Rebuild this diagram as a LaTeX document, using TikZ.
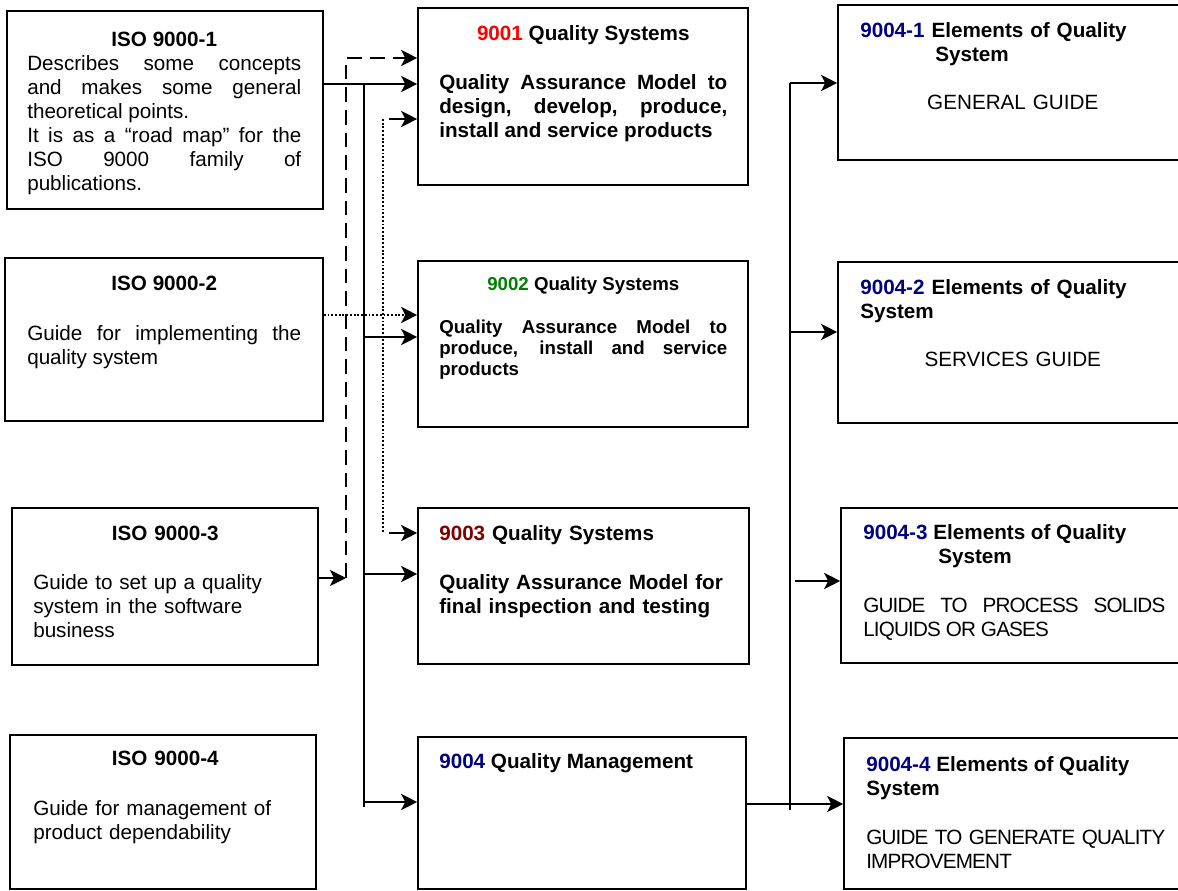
\documentclass[tikz,border=0pt]{standalone}
\usepackage{fontspec}
\setmainfont{Liberation Sans}
\newfontfamily\condcaps{Liberation Sans}[LetterSpace=-4]
\usetikzlibrary{arrows.meta, fit}

\definecolor{qred}{RGB}{255,0,0}
\definecolor{qgreen}{RGB}{0,128,0}
\definecolor{qmaroon}{RGB}{128,0,0}
\definecolor{qnavy}{RGB}{0,0,128}
\setlength{\parindent}{0pt}

\begin{document}
\begin{tikzpicture}[
    x=0.75pt, y=-0.75pt,
    box/.style={draw, line width=1.2pt, inner sep=0pt},
    txt/.style={inner sep=0pt, anchor=north west, font=\fontsize{15.5pt}{18pt}\selectfont},
    smalltxt/.style={inner sep=0pt, anchor=north west, font=\fontsize{14pt}{16pt}\selectfont},
    arrow/.style={-{Stealth[length=12pt, width=12pt, inset=3pt]}, line width=1.8pt},
    busline/.style={line width=1.6pt},
    dashline/.style={line width=1.6pt, dash pattern=on 11pt off 6pt},
    dotline/.style={line width=1.7pt, dash pattern=on 1.4pt off 1.4pt}
]
\useasboundingbox (0,0) rectangle (1178,891);
\clip (0,0) rectangle (1178,891);

% left column
\node[box, fit={(7,11) (323,209)}] (iso1) {};
\node[box, fit={(5,258) (323,421)}] (iso2) {};
\node[box, fit={(12,508) (318,665)}] (iso3) {};
\node[box, fit={(10,735) (316,889)}] (iso4) {};

\node[txt, text width=205.5pt, align=justify] (iso1t) at (27,31.6)
    {{\centering\bfseries ISO 9000-1\par}Describes some concepts\linebreak and makes some general\linebreak theoretical points.\par
     It is as a “road map” for the\linebreak ISO 9000 family of\linebreak publications.};
\node[txt, text width=205.5pt, align=justify] (iso2t) at (27,275.6)
    {{\centering\bfseries ISO 9000-2\par}\vspace{19.5pt}Guide for implementing the quality system};
\node[txt, text width=198pt, align=left] (iso3t) at (33,525.6)
    {{\centering\bfseries ISO 9000-3\par}\vspace{18.75pt}Guide to set up a quality\\system in the software\\business};
\node[txt, text width=198pt, align=left] (iso4t) at (33,750.6)
    {{\centering\bfseries ISO 9000-4\par}\vspace{19.5pt}Guide for management of\\product dependability};

% middle column
\node[box, fit={(418,8) (748,185)}] (q9001) {};
\node[box, fit={(418,261) (748,427)}] (q9002) {};
\node[box, fit={(418,508) (749,664)}] (q9003) {};
\node[box, fit={(418,737) (746,889)}] (q9004) {};

\node[txt, text width=216pt, align=justify] (q9001t) at (439,25.6)
    {{\centering\bfseries\textcolor{qred}{9001} Quality Systems\par}\vspace{18.75pt}
     {\bfseries Quality Assurance Model to\linebreak design, develop, produce,\linebreak install and service products\par}};
\node[smalltxt, text width=216pt, align=justify] (q9002t) at (439,276.3)
    {{\centering\bfseries\textcolor{qgreen}{9002} Quality Systems\par}\vspace{16.25pt}
     {\bfseries Quality Assurance Model to\linebreak produce, install and service\linebreak products\par}};
\node[txt, text width=216pt, align=left, font=\fontsize{15.5pt}{18pt}\selectfont\bfseries] (q9003t) at (439,525.6)
    {\textcolor{qmaroon}{9003} Quality Systems\par\vspace{18.75pt}Quality Assurance Model for\\final inspection and testing};
\node[txt, font=\fontsize{15.5pt}{18pt}\selectfont\bfseries] (q9004t) at (439,753.6)
    {\textcolor{qnavy}{9004} Quality Management};

% right column
\node[box, fit={(838,5) (1190,160)}] (e1) {};
\node[box, fit={(838,262) (1190,423)}] (e2) {};
\node[box, fit={(841,508) (1190,663)}] (e3) {};
\node[box, fit={(844,738) (1190,889)}] (e4) {};

\node[txt, text width=228.75pt, align=left] (e1t) at (860,22.6)
    {{\bfseries\textcolor{qnavy}{9004-1} Elements of Quality\\\hspace*{56.25pt}System\par}\vspace{18pt}
     {\centering GENERAL GUIDE\par}};
\node[txt, text width=228.75pt, align=left] (e2t) at (860,279.6)
    {{\bfseries\textcolor{qnavy}{9004-2} Elements of Quality\\System\par}\vspace{18pt}
     {\centering SERVICES GUIDE\par}};
\node[txt, text width=226.5pt, align=justify] (e3t) at (863,524.6)
    {{\raggedright\bfseries\textcolor{qnavy}{9004-3} Elements of Quality\\\hspace*{56.25pt}System\par}\vspace{18.75pt}
     {\condcaps GUIDE TO PROCESS SOLIDS\linebreak LIQUIDS OR GASES\par}};
\node[txt, text width=224.25pt, align=justify] (e4t) at (866,756.6)
    {{\raggedright\bfseries\textcolor{qnavy}{9004-4} Elements of Quality\\System\par}\vspace{18.75pt}
     {\condcaps GUIDE TO GENERATE QUALITY\linebreak IMPROVEMENT\par}};

% solid bus from ISO 9000-1
\coordinate (busTop) at (364,84);
\coordinate (busBot) at (364,807);
\coordinate (bus2) at (364,337);
\coordinate (bus3) at (364,574);
\coordinate (bus4) at (364,802);
\draw[arrow] (iso1.east |- busTop) -- (q9001.west |- busTop);
\draw[busline] (busTop) -- (busBot);
\draw[arrow] (bus2) -- (q9002.west |- bus2);
\draw[arrow] (bus3) -- (q9003.west |- bus3);
\draw[arrow] (bus4) -- (q9004.west |- bus4);

% dashed link from ISO 9000-3
\coordinate (dashTop) at (346,58);
\coordinate (dashBot) at (346,578);
\draw[arrow] (iso3.east |- dashBot) -- (dashBot);
\draw[dashline, arrow] (dashBot) -- (dashTop) -- (q9001.west |- dashTop);

% dotted links
\coordinate (dot2) at (383,315);
\coordinate (dotTop) at (383,119);
\coordinate (dotBot) at (383,533);
\draw[dotline, arrow] (iso2.east |- dot2) -- (q9002.west |- dot2);
\draw[dotline] (dotTop) -- (dotBot);
\draw[arrow] ([xshift=4.5pt]dotTop) -- (q9001.west |- dotTop);
\draw[arrow] ([xshift=4.5pt]dotBot) -- (q9003.west |- dotBot);

% right bus from 9004
\coordinate (rTop) at (790,83);
\coordinate (rBot) at (790,810);
\coordinate (r2) at (790,332);
\coordinate (r3) at (795,581);
\coordinate (r4) at (790,804);
\draw[busline] (rTop) -- (rBot);
\draw[arrow] (rTop) -- (e1.west |- rTop);
\draw[arrow] (r2) -- (e2.west |- r2);
\draw[arrow] (r3) -- (e3.west |- r3);
\draw[arrow] (q9004.east |- r4) -- (e4.west |- r4);
\end{tikzpicture}
\end{document}
